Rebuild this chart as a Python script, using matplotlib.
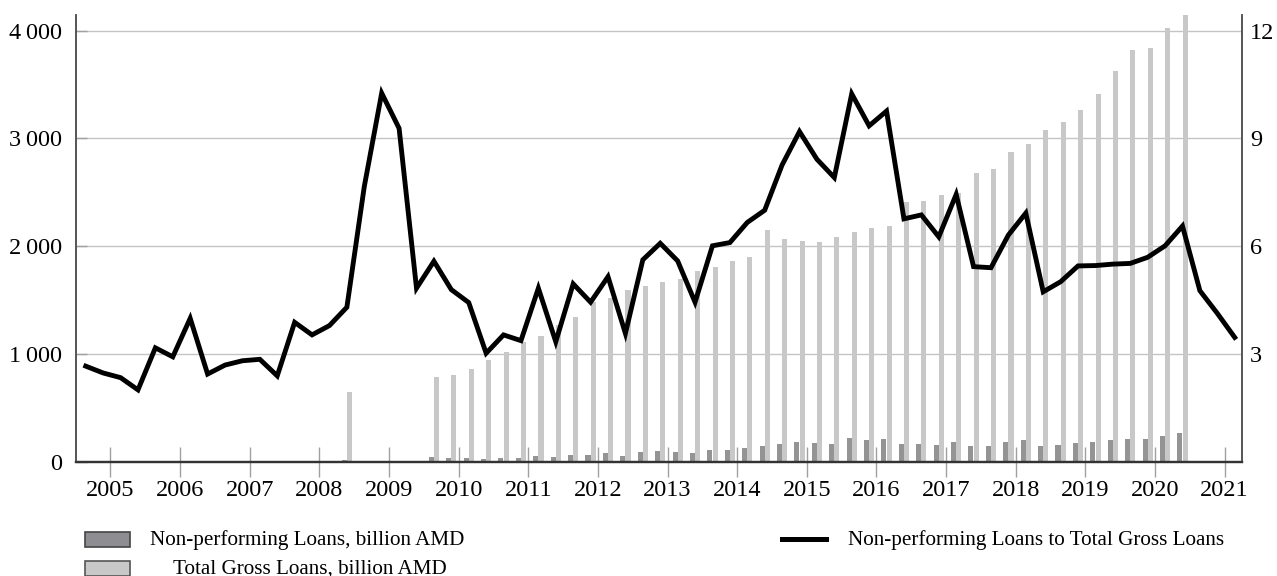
import matplotlib
matplotlib.use("Agg")
import matplotlib.pyplot as plt
from matplotlib.patches import Rectangle
from matplotlib.lines import Line2D
import numpy as np

plt.rcParams['font.family'] = ['Liberation Serif', 'DejaVu Serif']

# quarterly observations, one entry per quarter (first one late 2004)
years = [str(y) for y in range(2005, 2022)]

# Non-performing Loans to Total Gross Loans, % (right axis)
npl_ratio = [2.66, 2.47, 2.34, 2.00, 3.17, 2.92, 3.99, 2.44, 2.69, 2.81,
             2.85, 2.39, 3.88, 3.53, 3.79, 4.30, 7.66, 10.26, 9.28, 4.83,
             5.58, 4.79, 4.43, 3.02, 3.53, 3.37, 4.83, 3.34, 4.95, 4.44,
             5.15, 3.57, 5.62, 6.08, 5.59, 4.44, 6.01, 6.10, 6.66, 7.00,
             8.26, 9.19, 8.42, 7.91, 10.24, 9.35, 9.76, 6.76, 6.87, 6.26,
             7.44, 5.43, 5.40, 6.31, 6.92, 4.73, 5.01, 5.45, 5.46, 5.50,
             5.52, 5.69, 6.01, 6.56, 4.76, 4.13, 3.46]

# Total Gross Loans, billion AMD
total_loans = [0, 0, 0, 0, 0, 0, 0, 0, 0, 0,
               0, 0, 0, 0, 0, 650, 0, 0, 0, 0,
               789, 805, 857, 941, 1015, 1108, 1170, 1265, 1346, 1485,
               1522, 1594, 1632, 1668, 1696, 1773, 1810, 1863, 1897, 2150,
               2062, 2048, 2040, 2086, 2133, 2169, 2187, 2410, 2423, 2472,
               2497, 2677, 2716, 2874, 2945, 3078, 3150, 3264, 3413, 3629,
               3824, 3836, 4022, 4160]

# Non-performing Loans, billion AMD
npl = [0, 0, 0, 0, 0, 0, 0, 0, 0, 0,
       0, 0, 0, 0, 0, 15, 0, 0, 0, 0,
       40, 34, 34, 25, 34, 34, 53, 43, 62, 62,
       78, 56, 90, 102, 90, 78, 108, 111, 124, 146,
       167, 186, 170, 164, 217, 201, 211, 161, 164, 155,
       183, 142, 146, 180, 201, 142, 158, 177, 183, 198,
       207, 214, 241, 269]

light = '#c8c8c8'
dark = '#949494'

fig = plt.figure(figsize=(12.77, 5.76), dpi=100)
ax = fig.add_axes([76/1277, 1-461.7/576, (1241.5-76)/1277, (461.7-15)/576])
ax2 = ax.twinx()

xb = np.arange(len(total_loans))
bw = 0.29
ax.bar(xb - 0.15, npl, width=bw, color=dark, zorder=2)
ax.bar(xb + 0.15, total_loans, width=bw, color=light, zorder=2)

xl = np.arange(len(npl_ratio))
ax2.plot(xl, npl_ratio, color='black', lw=3.5, solid_joinstyle='miter', zorder=3)

ax.set_xlim(-0.56, 66.39)
ax.set_ylim(0, 4145)
ax2.set_ylim(0, 4145 * 3 / 1000)

ax.set_yticks([0, 1000, 2000, 3000, 4000])
ax.set_yticklabels(['0', '1\u2009000', '2\u2009000', '3\u2009000', '4\u2009000'])
ax2.set_yticks([3, 6, 9, 12])
ax2.set_yticklabels(['3', '6', '9', '12'])

ax.set_xticks([1.42 + 4 * k for k in range(len(years))])
ax.set_xticklabels(years)

ax.grid(axis='y', color='#c4c4c4', lw=1.0, zorder=0)
ax.set_axisbelow(True)

ax.tick_params(axis='x', direction='inout', length=22, width=1, color='#a0a0a0',
               labelsize=17.5, pad=2)
ax.tick_params(axis='y', direction='in', length=8, width=1, color='#a0a0a0',
               labelsize=17.5, pad=10)
ax2.tick_params(axis='y', direction='in', length=0, labelsize=17.5, pad=6)

for a in (ax, ax2):
    a.spines['top'].set_visible(False)
    a.spines['left'].set_color('#555555')
    a.spines['right'].set_color('#555555')
    a.spines['bottom'].set_color('#333333')
    a.spines['bottom'].set_linewidth(1.6)
    a.spines['left'].set_linewidth(1.2)
    a.spines['right'].set_linewidth(1.2)

# legend drawn by hand to get the reference layout
fig.patches.append(Rectangle((85/1277, 1-546.7/576), 45/1277, 15/576,
                             transform=fig.transFigure, facecolor='#8e8e92',
                             edgecolor='#444444', lw=1.2))
fig.patches.append(Rectangle((85/1277, 1-575.7/576), 45/1277, 15/576,
                             transform=fig.transFigure, facecolor=light,
                             edgecolor='#555555', lw=1.2))
fig.lines.append(Line2D([782/1277, 826/1277], [1-539/576, 1-539/576],
                        transform=fig.transFigure, color='black', lw=3.6))
fig.text(150/1277, 1-545/576, 'Non-performing Loans, billion AMD', fontsize=15.2,
         va='baseline', ha='left')
fig.text(173/1277, 1-573.5/576, 'Total Gross Loans, billion AMD', fontsize=15.2,
         va='baseline', ha='left')
fig.text(848/1277, 1-545/576, 'Non-performing Loans to Total Gross Loans', fontsize=15.2,
         va='baseline', ha='left')

fig.savefig('out.png', dpi=100)
